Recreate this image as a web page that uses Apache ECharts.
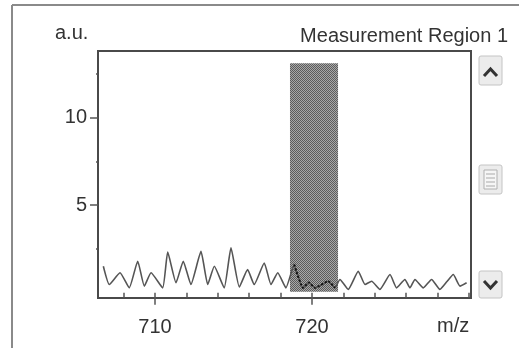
<!DOCTYPE html>
<html>
<head>
<meta charset="utf-8">
<script src="https://cdn.jsdelivr.net/npm/echarts@6/dist/echarts.min.js"></script>
<style>
html,body{margin:0;padding:0;background:#fff;}
#chart{width:519px;height:348px;}
</style>
</head>
<body>
<div id="chart"></div>
<script>
// m/z positions of the traced spectrum vertices
var mz = [706.71, 707.09, 707.77, 708.36, 708.90, 709.32, 709.75, 710.49, 710.81, 711.34,
          711.80, 712.29, 712.93, 713.36, 713.78, 714.41, 714.84, 715.37, 715.90, 716.32,
          716.96, 717.39, 717.82, 718.34, 718.87, 719.00, 719.43, 719.80, 720.19, 721.04,
          721.46, 721.78, 722.31, 722.95, 723.38, 723.80, 724.33, 724.97, 725.39, 725.92,
          726.24, 726.56, 727.09, 727.62, 728.15, 728.60, 729.00, 729.43, 729.85];
// intensity (a.u.) at those positions
var intensity = [1.51, 0.47, 1.14, 0.28, 1.80, 0.38, 1.14, 0.28, 2.32, 0.57,
                 1.80, 0.47, 2.36, 0.47, 1.51, 0.28, 2.56, 0.33, 1.32, 0.47,
                 1.70, 0.47, 1.14, 0.28, 1.61, 1.23, 0.28, 0.58, 0.28, 0.66,
                 0.28, 0.76, 0.19, 1.23, 0.47, 0.66, 0.19, 1.04, 0.28, 0.76,
                 0.28, 0.76, 0.28, 0.76, 0.19, 0.64, 1.04, 0.38, 0.57];
// measurement region (m/z start, end) and its height
var regionMz = [718.6, 721.66];
var regionIntensity = [0.05, 13.1];
// axis ranges and ticks
var xRange = [706.37, 730.13];
var yRange = [-0.3, 13.8];
var xMajorTicks = [710, 720];
var xMinorTicks = [708, 710, 712, 714, 716, 718, 720, 722, 724, 726, 728, 730];
var yMajorTicks = [5, 10];
var yMinorTicks = [2.5, 7.5, 12.5];
var yUnit = 'a.u.';
var xUnit = 'm/z';
var titleText = 'Measurement Region 1';

var points = mz.map(function (v, i) { return [v, intensity[i]]; });
var inRegion = points.filter(function (p) { return p[0] >= regionMz[0] - 0.25 && p[0] <= regionMz[1] + 0.1; });

// dithered fill for the region
var pc = document.createElement('canvas');
pc.width = 2; pc.height = 2;
var pctx = pc.getContext('2d');
pctx.fillStyle = '#a8a8a8'; pctx.fillRect(0, 0, 2, 2);
pctx.fillStyle = '#5c5c5c'; pctx.fillRect(0, 0, 1, 1); pctx.fillRect(1, 1, 1, 1);

var FONT = 'Liberation Sans, Arial, sans-serif';
var chart = echarts.init(document.getElementById('chart'), null, {renderer: 'canvas'});

function btn(y, h) {
  return {type: 'rect', shape: {x: 479, y: y, width: 23, height: h, r: 2},
          style: {fill: '#ececec', stroke: '#c4c4c4', lineWidth: 1}};
}

chart.setOption({
  animation: false,
  backgroundColor: '#fff',
  title: {
    text: titleText, right: 6, top: 21,
    textStyle: {fontFamily: FONT, fontSize: 20, fontWeight: 'normal', color: '#333'}
  },
  grid: {left: 98, top: 51, width: 373, height: 247, show: true,
         borderColor: '#4a4a4a', borderWidth: 2, backgroundColor: 'transparent'},
  xAxis: [
    {type: 'value', min: xRange[0], max: xRange[1], position: 'bottom',
     axisLine: {show: false}, splitLine: {show: false},
     axisTick: {show: true, customValues: xMinorTicks, length: 5, lineStyle: {color: '#555', width: 1.5}},
     axisLabel: {show: false}},
    {type: 'value', min: xRange[0], max: xRange[1], position: 'bottom',
     axisLine: {show: false}, splitLine: {show: false},
     axisTick: {show: true, customValues: xMajorTicks, length: 12, lineStyle: {color: '#555', width: 1.5}},
     axisLabel: {show: true, customValues: xMajorTicks, margin: 19,
                 fontFamily: FONT, fontSize: 20, color: '#333'}}
  ],
  yAxis: [
    {type: 'value', min: yRange[0], max: yRange[1], position: 'left',
     axisLine: {show: false}, splitLine: {show: false},
     axisTick: {show: true, customValues: yMajorTicks, length: 8, lineStyle: {color: '#555', width: 1.5}},
     axisLabel: {show: true, customValues: yMajorTicks, margin: 11,
                 fontFamily: FONT, fontSize: 20, color: '#333'}},
    {type: 'value', min: yRange[0], max: yRange[1], position: 'left',
     axisLine: {show: false}, splitLine: {show: false},
     axisTick: {show: true, customValues: yMinorTicks, length: 2, lineStyle: {color: '#555', width: 1.5}},
     axisLabel: {show: false}}
  ],
  series: [
    {
      type: 'line', data: [], z: 1, silent: true,
      markArea: {
        silent: true,
        itemStyle: {color: {image: pc, repeat: 'repeat'}, opacity: 1},
        data: [[{coord: [regionMz[0], regionIntensity[0]]}, {coord: [regionMz[1], regionIntensity[1]]}]]
      }
    },
    {
      type: 'line', data: points, z: 3,
      showSymbol: false, symbol: 'none', smooth: 0.15,
      lineStyle: {color: '#555', width: 1.6}
    },
    {
      type: 'line', data: inRegion, z: 4,
      showSymbol: false, symbol: 'none', smooth: 0.15,
      lineStyle: {color: '#111', width: 2, type: [2, 2]}
    }
  ],
  graphic: [
    {type: 'line', shape: {x1: 12, y1: 5, x2: 519, y2: 5}, style: {stroke: '#8a8a8a', lineWidth: 2}},
    {type: 'line', shape: {x1: 12, y1: 5, x2: 12, y2: 348}, style: {stroke: '#8a8a8a', lineWidth: 2}},
    {type: 'text', left: 55, top: 23, style: {text: yUnit, font: '20px ' + FONT, fill: '#333'}},
    {type: 'text', left: 437, top: 316, style: {text: xUnit, font: '20px ' + FONT, fill: '#333'}},
    btn(56, 29),
    {type: 'polyline', shape: {points: [[484, 76], [490.5, 69], [497, 76]]}, style: {stroke: '#333', lineWidth: 3, fill: null}},
    btn(165, 29),
    {type: 'rect', shape: {x: 484, y: 170, width: 13, height: 19}, style: {fill: '#f6f6f6', stroke: '#b0b0b0', lineWidth: 1}},
    {type: 'line', shape: {x1: 486, y1: 174, x2: 495, y2: 174}, style: {stroke: '#aaa', lineWidth: 1}},
    {type: 'line', shape: {x1: 486, y1: 178, x2: 495, y2: 178}, style: {stroke: '#aaa', lineWidth: 1}},
    {type: 'line', shape: {x1: 486, y1: 182, x2: 495, y2: 182}, style: {stroke: '#aaa', lineWidth: 1}},
    {type: 'line', shape: {x1: 486, y1: 186, x2: 495, y2: 186}, style: {stroke: '#aaa', lineWidth: 1}},
    btn(271, 27),
    {type: 'polyline', shape: {points: [[484, 281], [490.5, 288], [497, 281]]}, style: {stroke: '#333', lineWidth: 3, fill: null}}
  ]
});
</script>
</body>
</html>
